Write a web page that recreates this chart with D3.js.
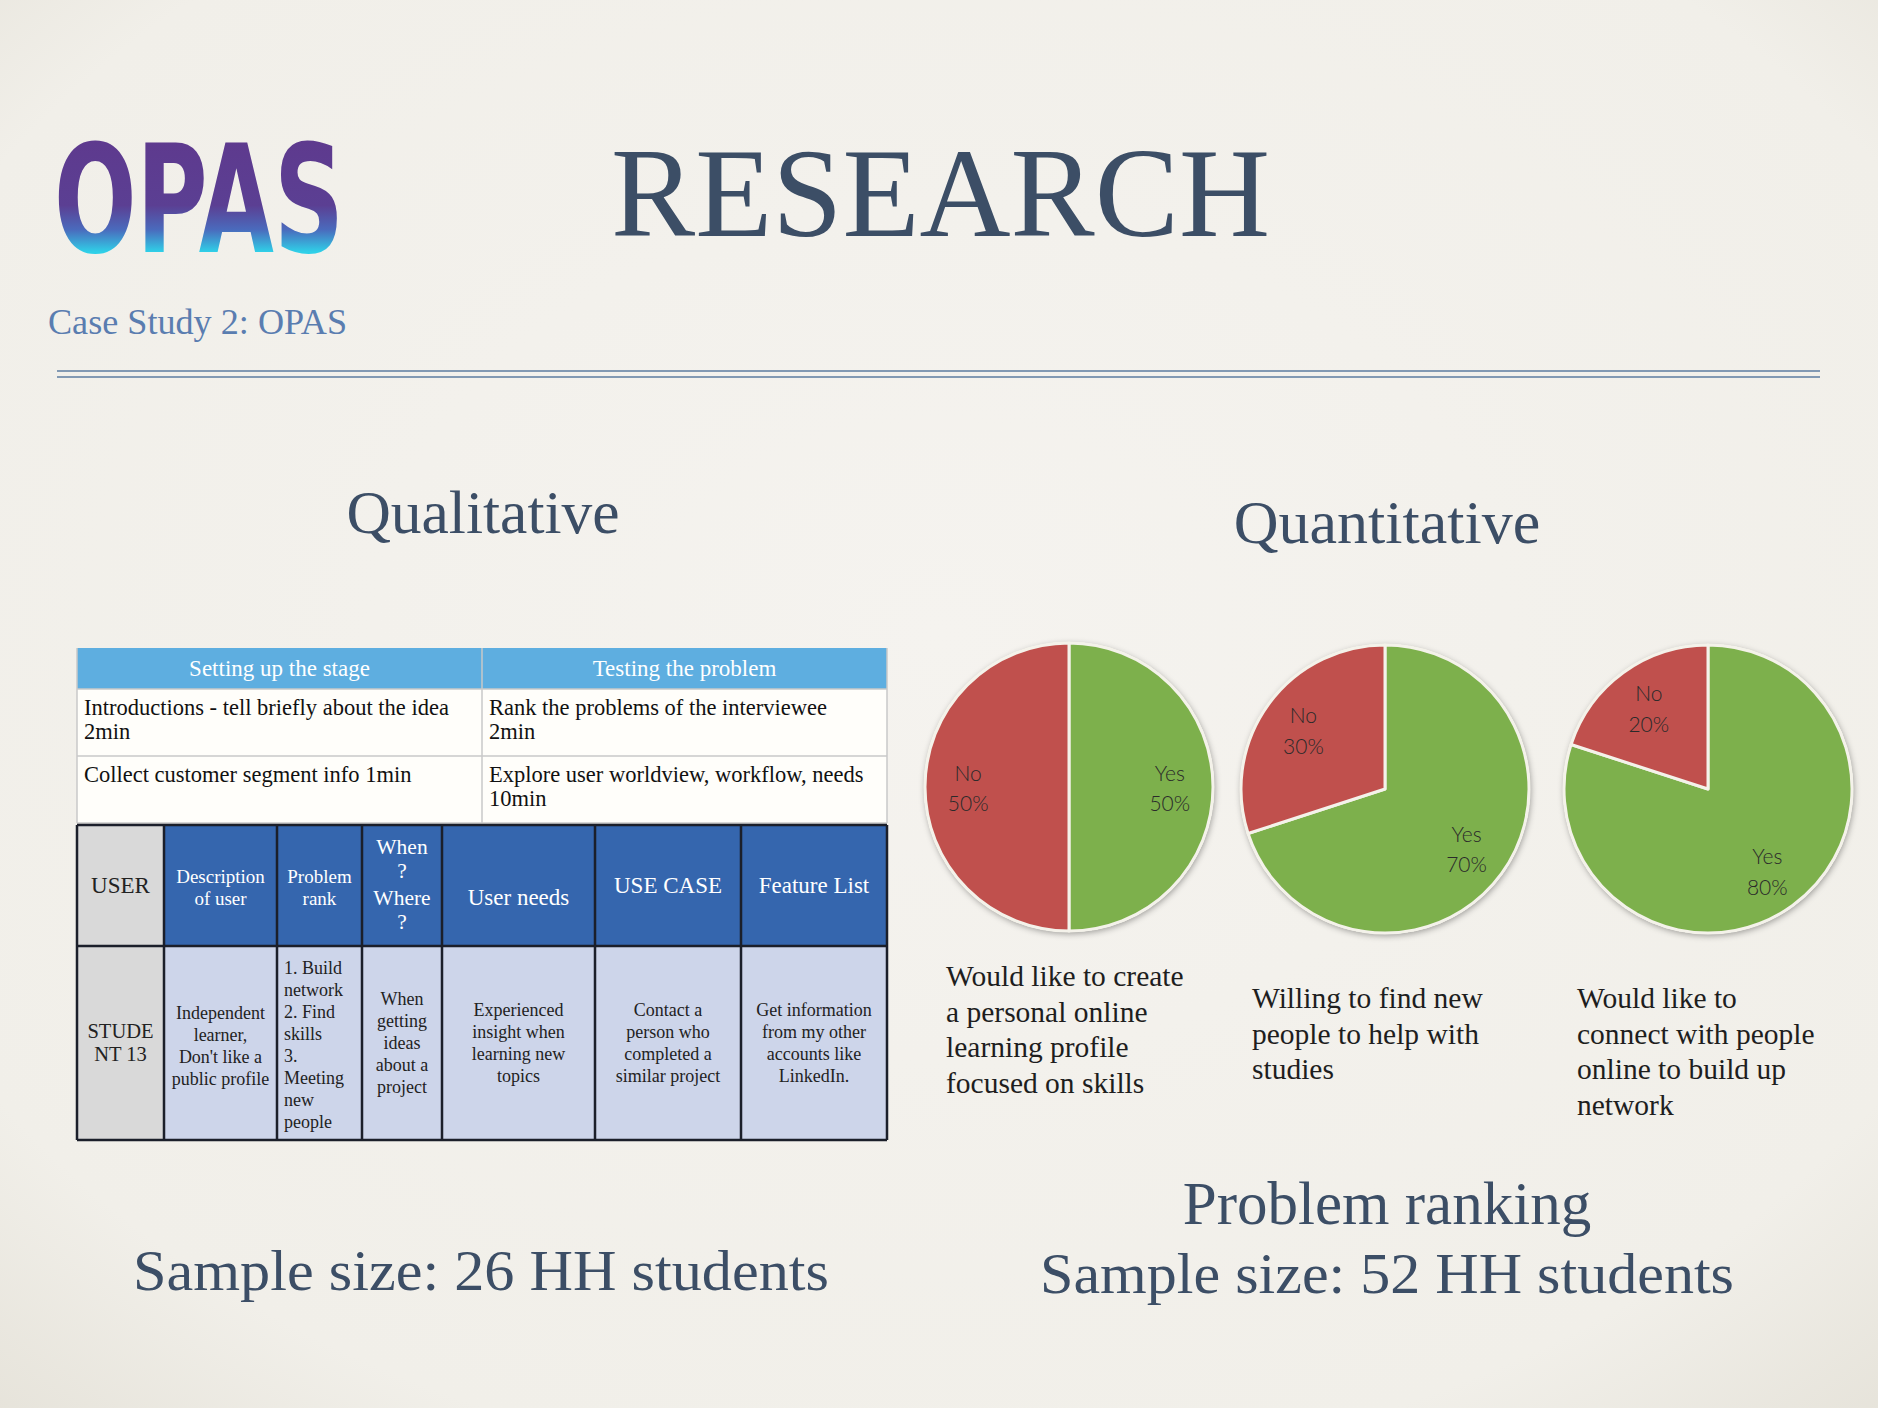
<!DOCTYPE html>
<html><head><meta charset="utf-8">
<script src="https://cdn.jsdelivr.net/npm/d3@7"></script>
<style>html,body{margin:0;padding:0;background:#f2f0eb;}svg{display:block;}</style>
</head><body>
<script>
// ---------- DATA ----------
const pieQuestions = [
  ["Would like to create","a personal online","learning profile","focused on skills"],
  ["Willing to find new","people to help with","studies"],
  ["Would like to","connect with people","online to build up","network"]
];
const answerLabels = ["Yes","No"];
const yesValues = [50, 70, 80];
const noValues  = [50, 30, 20];

const stageHeaders = ["Setting up the stage","Testing the problem"];
const stageRows = [
  [["Introductions - tell briefly about the idea","2min"],["Rank the problems of the interviewee","2min"]],
  [["Collect customer segment info 1min"],["Explore user worldview, workflow, needs","10min"]]
];
const interviewHeaders = [["USER"],["Description","of user"],["Problem","rank"],["When","?","Where","?"],["User needs"],["USE CASE"],["Feature List"]];
const interviewRow = [["STUDE","NT 13"],["Independent","learner,","Don't like a","public profile"],
  ["1. Build","network","2. Find","skills","3.","Meeting","new","people"],
  ["When","getting","ideas","about a","project"],
  ["Experienced","insight when","learning new","topics"],
  ["Contact a","person who","completed a","similar project"],
  ["Get information","from my other","accounts like","LinkedIn."]];
const colWidths = [87,113,85,80,153,146,146];

// ---------- SETUP ----------
const W = 1878, H = 1408;
const serif = "'Liberation Serif','DejaVu Serif',serif";
const dark = "#3c4e66";
const svg = d3.select("body").append("svg").attr("width", W).attr("height", H);
const defs = svg.append("defs");

const bg = defs.append("radialGradient").attr("id","bg").attr("cx","50%").attr("cy","45%").attr("r","75%");
bg.append("stop").attr("offset","0%").attr("stop-color","#f5f3ef");
bg.append("stop").attr("offset","80%").attr("stop-color","#f1efe9");
bg.append("stop").attr("offset","100%").attr("stop-color","#e6e3da");
svg.append("rect").attr("width",W).attr("height",H).attr("fill","url(#bg)");

const lg = defs.append("linearGradient").attr("id","logo").attr("gradientUnits","userSpaceOnUse")
  .attr("x1",0).attr("x2",0).attr("y1",141).attr("y2",252);
lg.append("stop").attr("offset","0%").attr("stop-color","#5e3a8e");
lg.append("stop").attr("offset","58%").attr("stop-color","#5b3f93");
lg.append("stop").attr("offset","80%").attr("stop-color","#4a6bbd");
lg.append("stop").attr("offset","100%").attr("stop-color","#2fd0e8");

const sh = defs.append("filter").attr("id","shadow").attr("x","-20%").attr("y","-20%").attr("width","140%").attr("height","140%");
sh.append("feDropShadow").attr("dx",1).attr("dy",2).attr("stdDeviation",3).attr("flood-color","#000").attr("flood-opacity",0.35);

// ---------- HEADER ----------
svg.append("text").attr("x",54).attr("y",252).attr("textLength",290).attr("lengthAdjust","spacingAndGlyphs")
  .attr("font-family","'DejaVu Sans',sans-serif").attr("font-weight","bold").attr("font-size",150)
  .attr("fill","url(#logo)").text("OPAS");

svg.append("text").attr("x",611).attr("y",236).attr("textLength",659).attr("lengthAdjust","spacingAndGlyphs")
  .attr("font-family",serif).attr("font-size",127).attr("fill",dark).text("RESEARCH");

svg.append("text").attr("x",48).attr("y",334).attr("textLength",299).attr("lengthAdjust","spacingAndGlyphs")
  .attr("font-family",serif).attr("font-size",35).attr("fill","#5a7db0").text("Case Study 2: OPAS");

[371,377].forEach(y => svg.append("line").attr("x1",57).attr("x2",1820).attr("y1",y).attr("y2",y)
  .attr("stroke","#8299b3").attr("stroke-width",2));

svg.append("text").attr("x",483).attr("y",533).attr("text-anchor","middle").attr("font-family",serif)
  .attr("font-size",61.5).attr("fill",dark).text("Qualitative");
svg.append("text").attr("x",1387).attr("y",543).attr("text-anchor","middle").attr("font-family",serif)
  .attr("font-size",62).attr("fill",dark).text("Quantitative");

// ---------- TOP TABLE ----------
const tX = 77, tW = 810;
const topCol = d3.scaleBand().domain(d3.range(stageHeaders.length)).range([tX, tX+tW]);
const topRowH = [41, 67, 67];
const topY = d3.cumsum([648, ...topRowH]);
const gTop = svg.append("g");
gTop.append("rect").attr("x",tX).attr("y",topY[0]).attr("width",tW).attr("height",topRowH[0]).attr("fill","#5eaee0");
gTop.append("rect").attr("x",tX).attr("y",topY[1]).attr("width",tW).attr("height",topRowH[1]+topRowH[2]).attr("fill","#fffefa");
stageHeaders.forEach((h,i)=>{
  gTop.append("text").attr("x",topCol(i)+topCol.bandwidth()/2).attr("y",topY[0]+28).attr("text-anchor","middle")
    .attr("font-family",serif).attr("font-size",23).attr("fill","#fff").text(h);
});
stageRows.forEach((row,r)=>{
  row.forEach((lines,c)=>{
    lines.forEach((ln,k)=> gTop.append("text").attr("x",topCol(c)+7).attr("y",topY[r+1]+26+k*24)
      .attr("font-family",serif).attr("font-size",22.5).attr("fill","#111").text(ln));
  });
});
[topY[1], topY[2], topY[3]].forEach(y=> gTop.append("line").attr("x1",tX).attr("x2",tX+tW).attr("y1",y).attr("y2",y).attr("stroke","#c8c8c8").attr("stroke-width",1.5));
[tX, topCol(1), tX+tW].forEach(x=> gTop.append("line").attr("x1",x).attr("x2",x).attr("y1",topY[0]).attr("y2",topY[3]).attr("stroke","#c8c8c8").attr("stroke-width",1.5));

// ---------- INTERVIEW TABLE ----------
const colX = d3.cumsum([tX, ...colWidths]);
const bY = [825, 946, 1140];
const gB = svg.append("g");
colWidths.forEach((w,i)=>{
  gB.append("rect").attr("x",colX[i]).attr("y",bY[0]).attr("width",w).attr("height",bY[1]-bY[0]).attr("fill", i===0?"#d9d9d9":"#3566ae");
  gB.append("rect").attr("x",colX[i]).attr("y",bY[1]).attr("width",w).attr("height",bY[2]-bY[1]).attr("fill", i===0?"#d9d9d9":"#cdd5ea");
});
const hdrSize = [23,19,19,21.5,23,23,23];
const hdrBase = [[893],[883,905],[883,905],[854,878,905,929],[905],[893],[893]];
interviewHeaders.forEach((lines,i)=>{
  lines.forEach((ln,k)=> gB.append("text").attr("x",colX[i]+colWidths[i]/2).attr("y",hdrBase[i][k]).attr("text-anchor","middle")
    .attr("font-family",serif).attr("font-size",hdrSize[i]).attr("fill", i===0?"#222":"#fff").text(ln));
});
const bodyStart = [1038,1019,974,1005,1016,1016,1016];
const bodyLH = [23,22,22,22,22,22,22];
interviewRow.forEach((lines,i)=>{
  const left = i===2;
  lines.forEach((ln,k)=> gB.append("text")
    .attr("x", left ? colX[i]+7 : colX[i]+colWidths[i]/2).attr("y",bodyStart[i]+k*bodyLH[i])
    .attr("text-anchor", left?"start":"middle").attr("font-family",serif)
    .attr("font-size", i===0?20.5:18).attr("fill","#222").text(ln));
});
[bY[0],bY[1],bY[2]].forEach(y=> gB.append("line").attr("x1",tX).attr("x2",tX+tW).attr("y1",y).attr("y2",y).attr("stroke","#1b1f2a").attr("stroke-width",2.5));
colX.forEach(x=> gB.append("line").attr("x1",x).attr("x2",x).attr("y1",bY[0]).attr("y2",bY[2]).attr("stroke","#1b1f2a").attr("stroke-width",2.5));

// ---------- PIES ----------
const pieCenters = [[1069,787],[1385,789],[1708,789]];
const R = 144;
const color = d3.scaleOrdinal().domain(answerLabels).range(["#7db04c","#c0504d"]);
const pie = d3.pie().sort(null).value(d=>d.value);
const arc = d3.arc().innerRadius(0).outerRadius(R);
const labelArc = d3.arc().innerRadius(R*0.7).outerRadius(R*0.7);
const capX = [946,1252,1577], capY = [986,1008,1008];
yesValues.forEach((yv,i)=>{
  const data = [{label:answerLabels[0], value:yv},{label:answerLabels[1], value:noValues[i]}];
  const g = svg.append("g").attr("transform",`translate(${pieCenters[i][0]},${pieCenters[i][1]})`);
  g.append("circle").attr("r",R+1).attr("fill","#f4f2ea").attr("filter","url(#shadow)");
  g.selectAll("path").data(pie(data)).join("path").attr("d",arc).attr("fill",d=>color(d.data.label))
    .attr("stroke","#f4f2ea").attr("stroke-width",3).attr("stroke-linejoin","round");
  g.selectAll("text.lbl").data(pie(data)).join("text").attr("class","lbl")
    .attr("transform",d=>`translate(${labelArc.centroid(d)})`).attr("text-anchor","middle")
    .attr("font-family","Lato,'Noto Sans',sans-serif").attr("font-weight",300).attr("font-size",21).attr("fill","#2a2a2a")
    .each(function(d){
      const t = d3.select(this);
      t.append("tspan").attr("x",0).attr("dy","-0.3em").text(d.data.label);
      t.append("tspan").attr("x",0).attr("dy","1.45em").text(d.data.value+"%");
    });
  pieQuestions[i].forEach((ln,k)=> svg.append("text").attr("x",capX[i]).attr("y",capY[i]+k*35.5)
    .attr("font-family",serif).attr("font-size",29.5).attr("fill","#1e1e1e").text(ln));
});

// ---------- FOOTER ----------
svg.append("text").attr("x",133).attr("y",1290).attr("textLength",696).attr("lengthAdjust","spacingAndGlyphs")
  .attr("font-family",serif).attr("font-size",58).attr("fill",dark).text("Sample size: 26 HH students");
svg.append("text").attr("x",1387).attr("y",1224).attr("text-anchor","middle")
  .attr("font-family",serif).attr("font-size",61).attr("fill",dark).text("Problem ranking");
svg.append("text").attr("x",1040).attr("y",1293).attr("textLength",694).attr("lengthAdjust","spacingAndGlyphs")
  .attr("font-family",serif).attr("font-size",58).attr("fill",dark).text("Sample size: 52 HH students");
</script>
</body></html>
